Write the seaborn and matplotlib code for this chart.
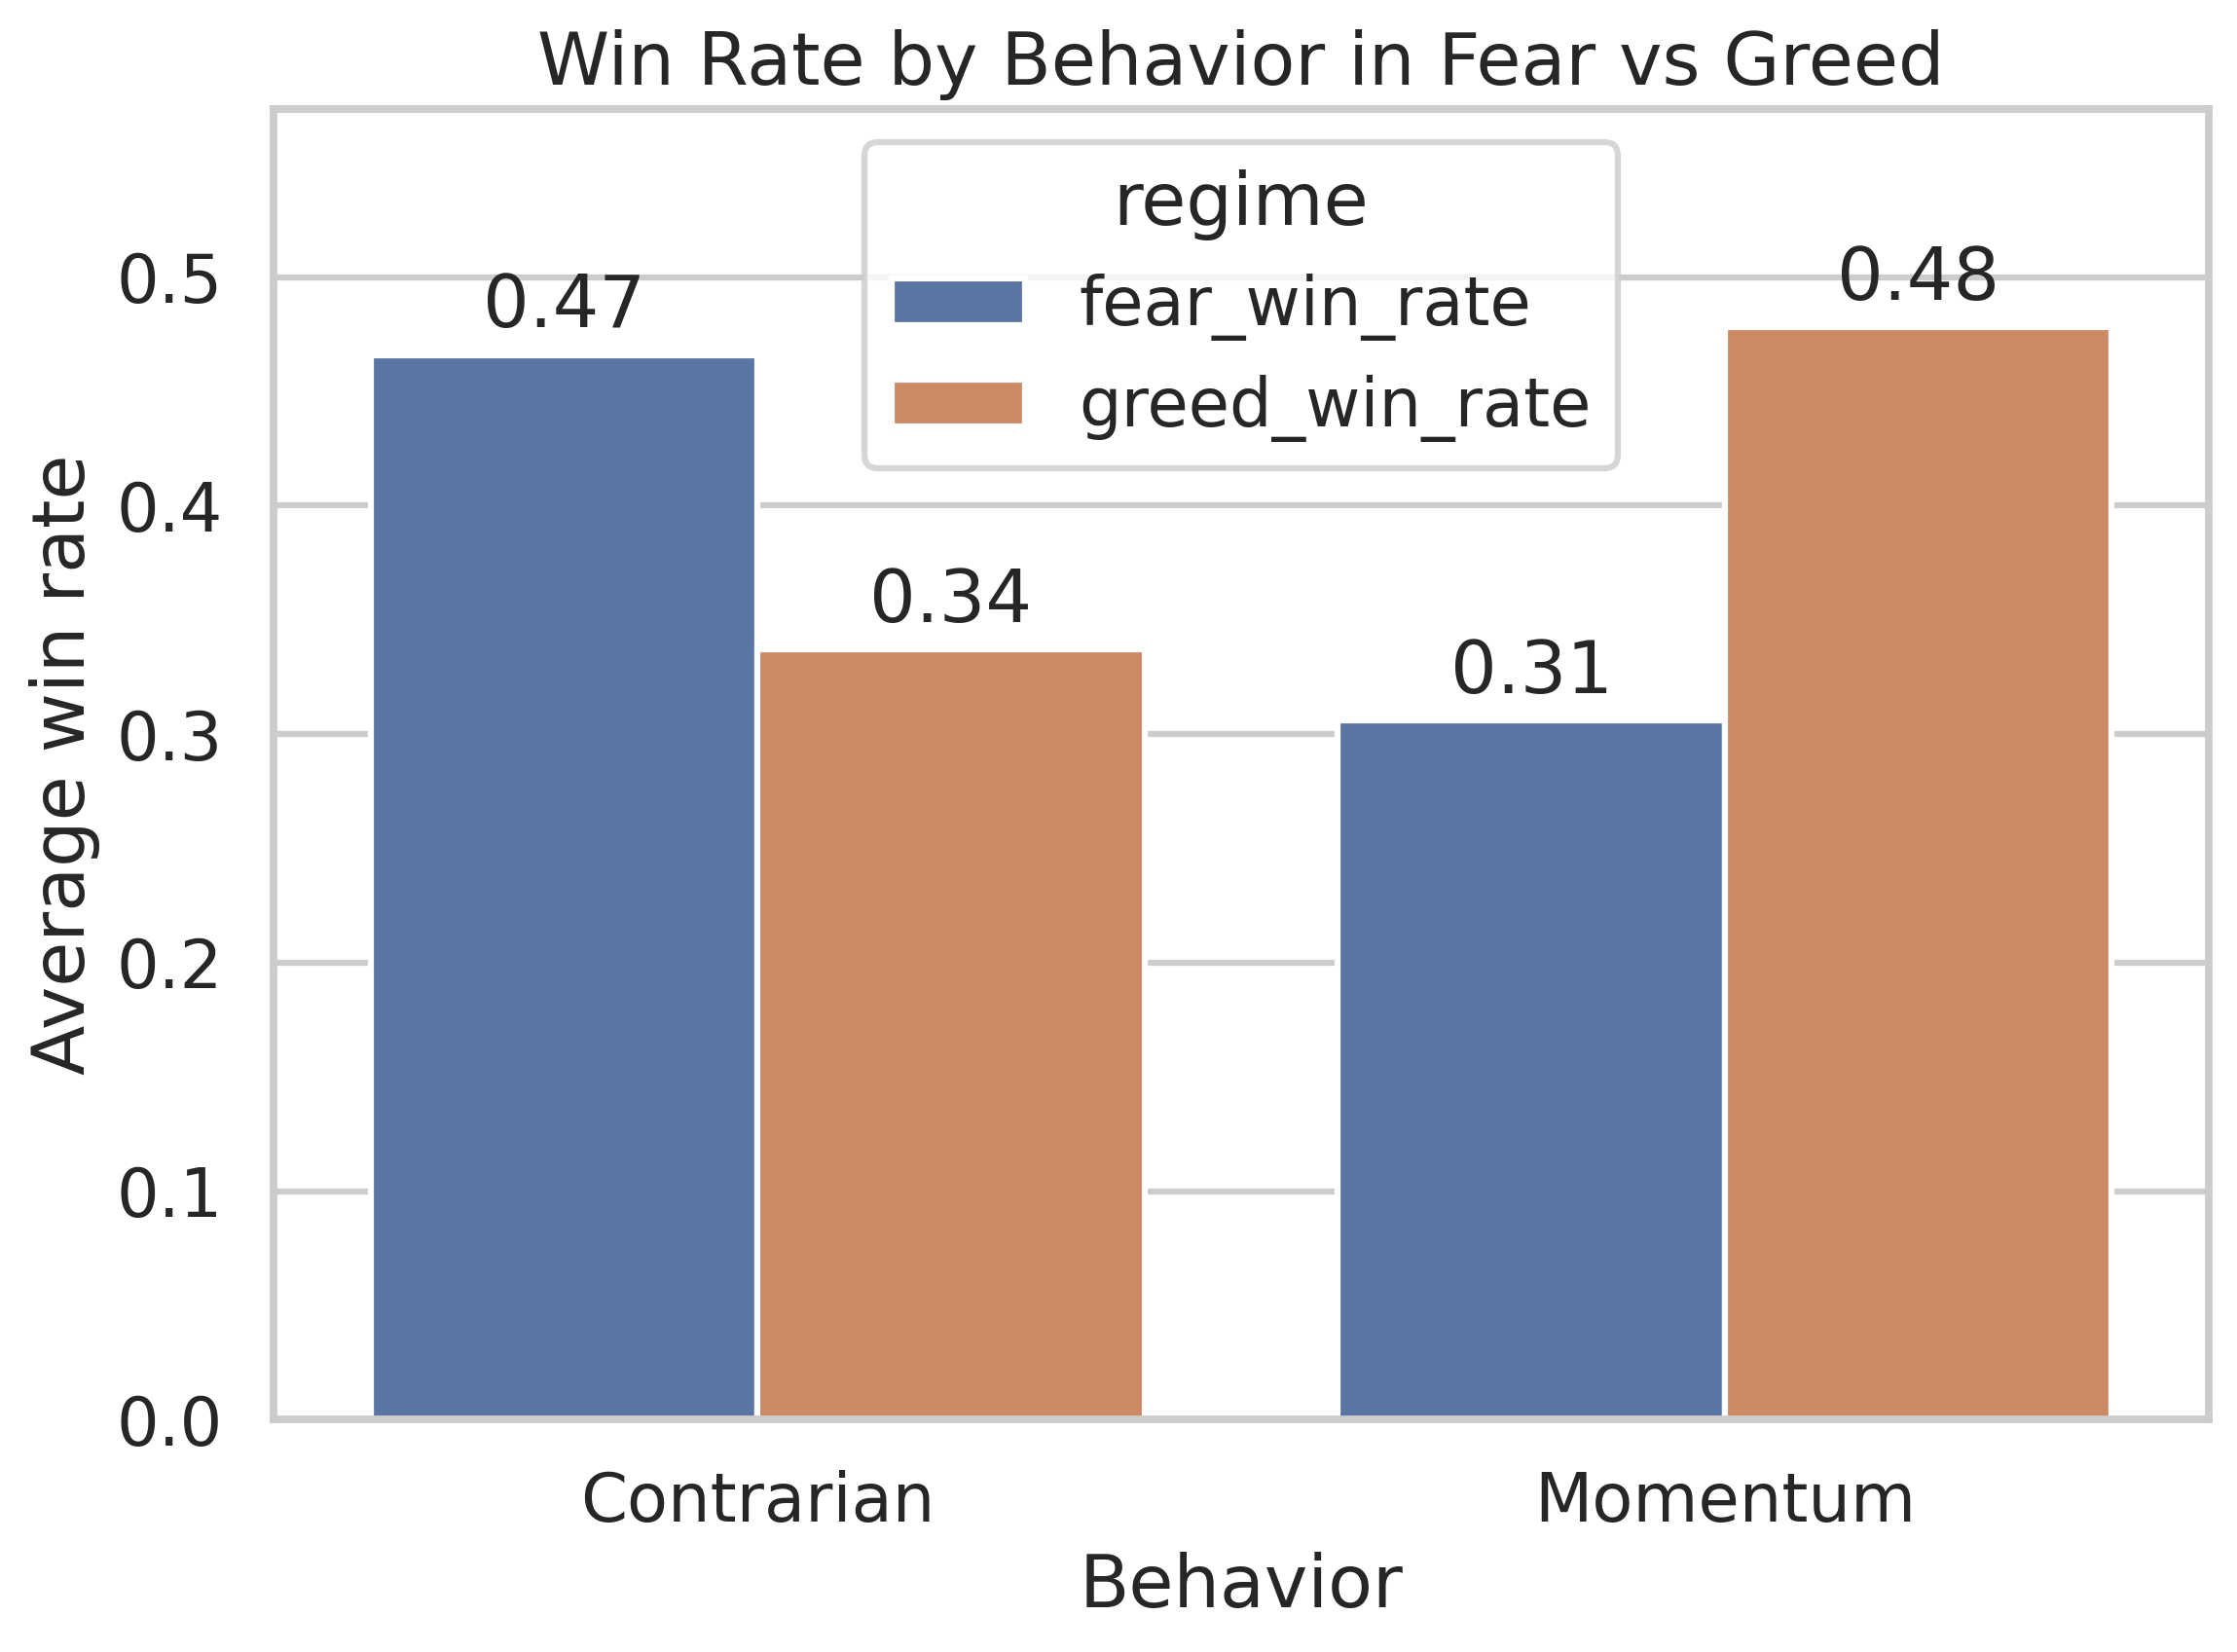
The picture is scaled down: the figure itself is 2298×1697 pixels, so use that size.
import matplotlib
matplotlib.use("Agg")
import matplotlib.pyplot as plt
import seaborn as sns
import pandas as pd

behaviors = ["Contrarian", "Momentum"]
fear_win_rate = [0.466, 0.306]
greed_win_rate = [0.337, 0.478]

df = pd.DataFrame({
    "Behavior": behaviors * 2,
    "regime": ["fear_win_rate"] * 2 + ["greed_win_rate"] * 2,
    "win_rate": fear_win_rate + greed_win_rate,
})

sns.set_theme(style="whitegrid", context="talk")
fig, ax = plt.subplots(figsize=(8, 6))
sns.barplot(data=df, x="Behavior", y="win_rate", hue="regime", ax=ax)
for c in ax.containers:
    ax.bar_label(c, fmt="%.2f", padding=3)
ax.set_ylim(0, max(fear_win_rate + greed_win_rate) * 1.2)
ax.set_title("Win Rate by Behavior in Fear vs Greed")
ax.set_xlabel("Behavior")
ax.set_ylabel("Average win rate")
sns.move_legend(ax, "upper center", title="regime")
plt.tight_layout()
fig.savefig("out.png", dpi=300, bbox_inches="tight")
